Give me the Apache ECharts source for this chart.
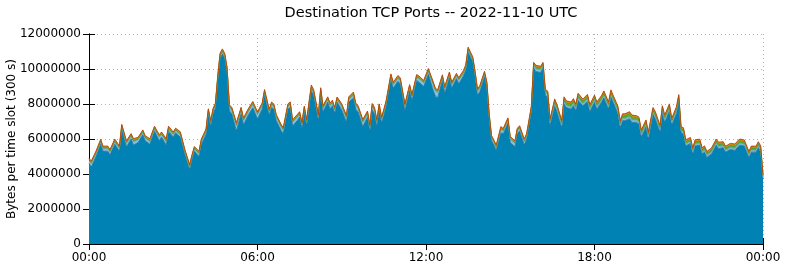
<!DOCTYPE html>
<html>
<head>
<meta charset="utf-8">
<script src="https://cdn.jsdelivr.net/npm/echarts@6/dist/echarts.min.js"></script>
<style>
html,body{margin:0;padding:0;background:#fff;}
#chart{width:785px;height:268px;}
</style>
</head>
<body>
<div id="chart"></div>
<script>
// time slot (minutes after 00:00 UTC)
const slotMinutes = [
  0,5,15,25,30,40,45,55,65,70,
  80,90,95,105,115,120,130,140,150,155,
  165,170,180,185,195,205,215,220,225,235,
  240,250,255,260,265,270,275,280,285,290,
  295,300,305,315,325,330,340,350,360,370,
  375,385,390,395,400,410,415,425,430,435,
  445,450,455,460,465,475,480,490,495,500,
  510,515,520,525,530,540,550,555,565,570,
  575,585,595,600,605,610,615,620,625,630,
  635,645,650,660,665,675,685,690,700,705,
  715,725,735,740,745,755,760,770,775,785,
  790,800,805,810,820,825,830,835,845,850,
  855,860,865,870,880,885,895,900,910,915,
  920,930,935,945,950,955,965,970,975,980,
  985,
  995,1000,1010,1015,1020,1030,1035,1040,1045,1055,
  1065,1070,1080,1085,1095,1100,1110,1115,1120,1130,
  1135,1140,1145,1155,1160,1170,1175,1180,1190,1195,
  1205,1210,1220,1225,1230,1240,1245,1255,1260,
  1265,1270,1275,1285,1290,1295,1305,1310,1315,1320,
  1330,1340,1345,1355,1360,1370,1380,1390,1400,1410,
  1415,1425,1430,1435,1440
];

// bytes per slot, in millions
const portMain = [
  4.6,4.4,5.0,5.7,5.3,5.3,5.1,5.7,5.3,6.55,
  5.55,6.0,5.65,5.8,6.25,5.9,5.7,6.45,5.9,6.1,
  5.65,6.45,6.1,6.35,6.1,5.1,4.25,4.8,5.3,5.0,
  5.7,6.25,7.45,6.7,7.45,7.75,9.3,10.6,10.85,10.6,
  9.8,7.6,7.45,6.45,7.45,6.8,7.35,7.78,7.15,7.7,
  8.5,7.35,7.8,7.7,7.05,6.5,6.3,7.7,7.8,6.75,
  7.05,7.25,6.6,7.55,6.75,8.75,8.5,7.05,8.6,7.55,
  8.1,7.7,7.9,7.45,8.1,7.65,6.95,8.1,8.35,7.7,
  7.55,6.7,7.25,6.4,7.65,7.45,6.7,7.65,6.9,7.35,
  7.9,9.4,8.9,9.3,9.15,7.6,8.75,8.2,9.35,9.25,
  9.0,9.7,8.8,8.45,8.35,9.35,8.6,9.5,8.9,9.45,
  9.15,9.6,9.95,10.95,10.4,9.55,8.5,8.7,9.55,8.9,
  7.15,5.9,5.65,5.35,6.35,6.3,6.9,5.8,5.55,6.3,
  6.45,5.65,6.0,7.55,10.05,9.85,9.8,10.05,8.5,8.4,
  6.75,
  7.9,7.55,6.65,8.0,7.8,7.7,7.9,7.6,8.2,7.9,
  8.15,7.55,8.1,7.7,8.1,8.35,7.7,8.4,8.1,7.45,
  6.65,7.05,7.05,7.15,6.95,6.95,6.85,6.1,6.7,6.0,
  7.4,7.15,6.4,7.5,6.95,7.6,6.8,7.45,8.15,
  6.35,6.3,5.6,5.75,5.15,5.6,5.65,5.15,5.25,4.95,
  5.15,5.65,5.45,5.5,5.25,5.4,5.35,5.65,5.6,4.95,
  5.25,5.25,5.5,5.25,3.7
];

const portLightBlue = [
  .15,.2,.15,.12,.15,.15,.15,.12,.15,.12,
  .2,.15,.2,.15,.12,.15,.15,.12,.2,.15,
  .2,.12,.15,.12,.15,.15,.15,.15,.12,.15,
  .15,.15,.12,.2,.12,.15,.12,.12,.12,.12,
  .15,.2,.2,.3,.2,.25,.2,.2,.25,.2,
  .15,.2,.15,.15,.2,.2,.2,.15,.15,.2,
  .2,.15,.2,.15,.2,.15,.15,.2,.15,.2,
  .15,.2,.15,.2,.15,.2,.25,.15,.15,.2,
  .2,.25,.2,.25,.2,.2,.25,.2,.2,.2,
  .15,.15,.2,.15,.2,.25,.2,.2,.15,.2,
  .2,.15,.35,.3,.3,.15,.25,.15,.2,.15,
  .2,.15,.12,.12,.12,.15,.2,.2,.15,.2,
  .15,.15,.15,.15,.2,.15,.15,.2,.2,.15,
  .15,.2,.15,.15,.12,.15,.15,.12,.15,.15,
  .2,
  .12,.12,.13,.12,.11,.12,.13,.12,.12,.11,
  .12,.13,.12,.12,.11,.12,.13,.12,.12,.13,
  .12,.12,.11,.12,.13,.12,.12,.13,.12,.12,
  .12,.11,.12,.12,.13,.12,.12,.11,.12,
  .1,.1,.11,.1,.1,.11,.1,.1,.1,.11,
  .1,.1,.11,.1,.1,.1,.11,.1,.1,.11,
  .1,.1,.1,.11,.1
];

const portGreen = [
  .06,.06,.07,.06,.05,.06,.06,.07,.06,.06,
  .06,.07,.06,.06,.06,.05,.06,.07,.06,.06,
  .06,.07,.06,.06,.06,.05,.06,.06,.06,.06,
  .06,.06,.07,.06,.07,.06,.06,.07,.07,.06,
  .06,.06,.07,.08,.07,.06,.07,.06,.06,.07,
  .07,.06,.07,.06,.06,.07,.06,.07,.06,.06,
  .06,.07,.06,.07,.06,.07,.06,.06,.07,.06,
  .07,.06,.06,.07,.06,.07,.06,.07,.07,.06,
  .06,.07,.06,.06,.07,.06,.06,.07,.06,.07,
  .07,.06,.06,.07,.06,.06,.07,.06,.07,.06,
  .06,.07,.06,.06,.07,.06,.06,.07,.06,.06,
  .07,.06,.07,.07,.06,.06,.07,.06,.06,.07,
  .06,.06,.07,.06,.07,.06,.07,.06,.06,.07,
  .07,.06,.07,.07,.1,.1,.1,.1,.09,.1,
  .1,
  .16,.17,.18,.17,.16,.18,.17,.17,.18,.16,
  .17,.18,.17,.18,.16,.17,.18,.17,.16,.18,
  .17,.16,.17,.18,.17,.16,.17,.18,.16,.17,
  .17,.18,.16,.17,.18,.17,.16,.17,.15,
  .13,.14,.14,.13,.15,.14,.13,.14,.15,.14,
  .13,.14,.15,.14,.13,.14,.15,.14,.14,.13,
  .14,.13,.14,.14,.1
];

const portOrange = [
  .06,.06,.06,.07,.06,.06,.06,.07,.06,.07,
  .06,.06,.07,.06,.06,.06,.07,.06,.06,.06,
  .07,.06,.06,.06,.07,.06,.05,.06,.06,.06,
  .06,.07,.06,.06,.07,.06,.07,.07,.07,.07,
  .06,.06,.06,.07,.06,.06,.06,.07,.06,.06,
  .07,.06,.06,.06,.06,.06,.05,.06,.07,.06,
  .06,.06,.06,.07,.06,.07,.07,.06,.07,.06,
  .06,.06,.07,.06,.06,.06,.06,.06,.07,.06,
  .06,.06,.06,.06,.07,.06,.06,.06,.06,.06,
  .06,.07,.06,.07,.06,.06,.06,.06,.07,.06,
  .06,.07,.06,.06,.06,.07,.06,.07,.06,.06,
  .06,.07,.07,.07,.07,.06,.06,.06,.07,.06,
  .06,.06,.05,.06,.06,.06,.06,.06,.06,.06,
  .06,.06,.06,.06,.07,.07,.07,.07,.06,.06,
  .06,
  .07,.07,.06,.07,.07,.07,.07,.06,.07,.07,
  .07,.06,.07,.07,.07,.07,.06,.07,.07,.07,
  .06,.07,.07,.07,.07,.06,.07,.06,.07,.06,
  .07,.07,.06,.07,.07,.07,.06,.07,.07,
  .06,.06,.06,.06,.05,.06,.06,.06,.06,.05,
  .06,.06,.06,.06,.06,.06,.06,.06,.06,.06,
  .06,.06,.06,.06,.05
];

const portRed = [
  .03,.03,.03,.04,.03,.03,.03,.04,.03,.04,
  .03,.03,.04,.03,.03,.03,.04,.03,.03,.03,
  .04,.03,.03,.03,.04,.03,.03,.03,.03,.03,
  .03,.04,.03,.03,.04,.03,.04,.04,.04,.04,
  .03,.03,.03,.04,.03,.03,.03,.04,.03,.03,
  .04,.03,.03,.03,.03,.03,.03,.03,.04,.03,
  .03,.03,.03,.04,.03,.04,.04,.03,.04,.03,
  .03,.03,.04,.03,.03,.03,.03,.03,.04,.03,
  .03,.03,.03,.03,.04,.03,.03,.03,.03,.03,
  .03,.04,.03,.04,.03,.03,.03,.03,.04,.03,
  .03,.04,.03,.03,.03,.04,.03,.04,.03,.03,
  .03,.04,.04,.04,.04,.03,.03,.03,.04,.03,
  .03,.03,.03,.03,.03,.03,.03,.03,.03,.03,
  .03,.03,.03,.03,.04,.04,.04,.04,.03,.03,
  .03,
  .04,.04,.04,.05,.04,.04,.04,.04,.05,.04,
  .04,.04,.05,.04,.04,.04,.04,.05,.04,.04,
  .04,.04,.04,.04,.05,.04,.04,.04,.04,.04,
  .04,.05,.04,.04,.04,.05,.04,.04,.05,
  .05,.05,.05,.05,.04,.05,.05,.05,.05,.04,
  .05,.05,.05,.05,.05,.05,.05,.05,.05,.04,
  .05,.05,.05,.05,.04
];

const xTicks = [0, 360, 720, 1080, 1440];
const xTickLabels = ['00:00', '06:00', '12:00', '18:00', '00:00'];

const layers = [
  { name: 'main', values: portMain, fill: '#0083b4', line: '#1a6d92' },
  { name: 'lightblue', values: portLightBlue, fill: '#86bfe0', line: '#6aa6c8' },
  { name: 'green', values: portGreen, fill: '#5aaa3c', line: '#3f8f2a' },
  { name: 'orange', values: portOrange, fill: '#e8a000', line: '#d08a00' },
  { name: 'red', values: portRed, fill: '#c8501a', line: '#b03c10' }
];

const fontFamily = 'DejaVu Sans';
const chart = echarts.init(document.getElementById('chart'), null, { renderer: 'canvas' });

const tickStyle = { show: true, inside: true, length: 6, lineStyle: { color: '#000', width: 1 } };
const lineBox = { show: true, lineStyle: { color: '#000', width: 1 } };
const gridDots = { show: true, lineStyle: { color: '#b0b0b0', type: [1, 3], width: 1 } };

chart.setOption({
  animation: false,
  backgroundColor: '#fff',
  title: {
    text: 'Destination TCP Ports -- 2022-11-10 UTC',
    left: 426,
    textAlign: 'center',
    top: 1,
    textStyle: { fontFamily, fontSize: 14.5, fontWeight: 'normal', color: '#000' }
  },
  grid: { left: 89, right: 22, top: 34, bottom: 24, containLabel: false, outerBoundsMode: 'none' },
  xAxis: [
    {
      type: 'value', position: 'bottom', min: 0, max: 1440, interval: 360,
      axisLine: lineBox, axisTick: tickStyle, splitLine: gridDots,
      axisLabel: {
        margin: 8, color: '#000', fontFamily, fontSize: 12,
        formatter: v => xTickLabels[xTicks.indexOf(v)]
      }
    },
    {
      type: 'value', position: 'top', min: 0, max: 1440, interval: 360,
      axisLine: lineBox, axisTick: tickStyle, splitLine: { show: false },
      axisLabel: { show: false }
    }
  ],
  yAxis: [
    {
      type: 'value', position: 'left', min: 0, max: 12, interval: 2,
      name: 'Bytes per time slot (300 s)', nameLocation: 'middle', nameGap: 71,
      nameRotate: 90, nameMoveOverlap: false,
      nameTextStyle: { fontFamily, fontSize: 12, color: '#000' },
      axisLine: lineBox, axisTick: tickStyle, splitLine: gridDots,
      axisLabel: {
        margin: 8, color: '#000', fontFamily, fontSize: 12,
        formatter: v => String(Math.round(v * 1000000))
      }
    },
    {
      type: 'value', position: 'right', min: 0, max: 12, interval: 2,
      axisLine: lineBox, axisTick: tickStyle, splitLine: { show: false },
      axisLabel: { show: false }
    }
  ],
  series: layers.map(l => ({
    name: l.name,
    type: 'line',
    stack: 'ports',
    xAxisIndex: 0,
    yAxisIndex: 0,
    symbol: 'none',
    smooth: false,
    // value first so that the stack is applied to the value dimension
    data: slotMinutes.map((t, i) => [l.values[i], t]),
    encode: { x: 1, y: 0 },
    lineStyle: { color: l.line, width: 0.8 },
    areaStyle: { color: l.fill, opacity: 1 },
    itemStyle: { color: l.fill }
  }))
});
</script>
</body>
</html>
